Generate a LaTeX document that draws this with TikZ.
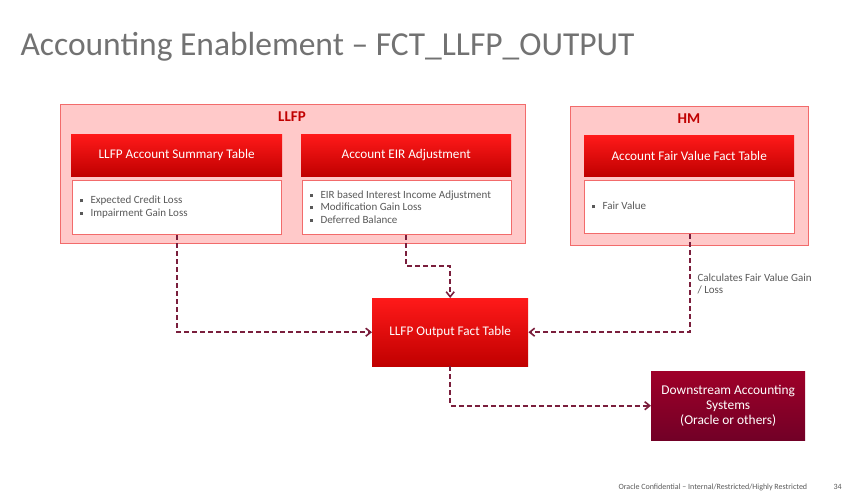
\documentclass[tikz,border=0pt]{standalone}
\usepackage{fontspec}
\setmainfont{Carlito}
\usetikzlibrary{arrows.meta, positioning, calc}
\definecolor{grouppink}{HTML}{FFC9C9}
\definecolor{groupline}{HTML}{F26B6B}
\definecolor{headred}{HTML}{E80000}
\definecolor{darkred}{HTML}{C00000}
\definecolor{crimson}{HTML}{8E0030}
\definecolor{flowline}{HTML}{7A1E3C}
\definecolor{textgray}{HTML}{595959}
\newcommand{\sqb}{\raisebox{0.25ex}{\rule{3pt}{3pt}}\hspace{8pt}}
\begin{document}
\begin{tikzpicture}[
                                        x=1pt, y=-1pt,
                                        group/.style={draw=groupline, line width=1.2pt, fill=grouppink, anchor=north west, inner sep=0pt},
                                        head/.style={top color=red!90!white, bottom color=darkred, text=white, anchor=north west, inner sep=0pt, align=center, font=\fontsize{13.2}{15}\selectfont},
                                        body/.style={draw=groupline, line width=1.2pt, fill=white, anchor=north west, inner sep=0pt},
                                        items/.style={text=textgray, anchor=west, align=left, font=\fontsize{11}{12.5}\selectfont},
                                        flow/.style={draw=flowline, line width=1.6pt, dash pattern=on 5pt off 3pt, -{Straight Barb[length=5pt,width=8pt]}},
                                ]
                                \useasboundingbox (0,0) rectangle (847,496);
                                \node[anchor=west, text=textgray!85, font=\fontsize{33.5}{36}\selectfont] (title) at (17,47) {Accounting Enablement -- FCT\_LLFP\_OUTPUT};
                                % LLFP group
                                \node[group, minimum width=465pt, minimum height=139pt] (llfp) at (60,104) {};
                                \node[text=darkred, font=\bfseries\fontsize{15}{17}\selectfont] (llfpt) at (292,117) {LLFP};
                                \node[head, minimum width=211pt, minimum height=42pt] (sumh) at (71,134) {LLFP Account Summary Table};
                                \node[head, minimum width=210pt, minimum height=42pt] (eirh) at (301,134) {Account EIR Adjustment};
                                \node[body, minimum width=209pt, minimum height=54pt] (sumb) at (72,180) {};
                                \node[body, minimum width=209pt, minimum height=54pt] (eirb) at (302,180) {};
                                \node[items] (sumi) at (76,207) {\sqb Expected Credit Loss\\\sqb Impairment Gain Loss};
                                \node[items] (eiri) at (306,207) {\sqb EIR based Interest Income Adjustment\\\sqb Modification Gain Loss\\\sqb Deferred Balance};
                                % HM group
                                \node[group, minimum width=238pt, minimum height=139pt] (hm) at (570,106) {};
                                \node[text=darkred, font=\bfseries\fontsize{15}{17}\selectfont] (hmt) at (689,119) {HM};
                                \node[head, minimum width=210pt, minimum height=41pt] (fvh) at (584,135) {Account Fair Value Fact Table};
                                \node[body, minimum width=210pt, minimum height=53pt] (fvb) at (584,180) {};
                                \node[items] (fvi) at (588,206) {\sqb Fair Value};
                                % output and downstream
                                \node[head, minimum width=156pt, minimum height=68pt] (out) at (372,298) {LLFP Output Fact Table};
                                \node[head, top color=crimson!85!red, bottom color=crimson!80!black, minimum width=154pt, minimum height=69pt, font=\fontsize{13.4}{15}\selectfont] (down) at (651,371) {Downstream Accounting\\Systems\\(Oracle or others)};
                                % connectors
                                \coordinate (k1) at (406,266);
                                \draw[flow] (sumb.south -| 177,0) |- (out.west);
                                \draw[flow] (eirb.south -| k1) -- (k1) -| (out.north);
                                \draw[flow] (fvb.south -| 690,0) |- (out.east);
                                \draw[flow] (out.south) |- (down.west);
                                \node[items, anchor=north west] (gain) at (694,270) {Calculates Fair Value Gain\\/ Loss};
                                \node[anchor=west, text=textgray, font=\fontsize{8}{9}\selectfont] (conf) at (615,487) {Oracle Confidential -- Internal/Restricted/Highly Restricted};
                                \node[anchor=west, text=textgray, font=\fontsize{8}{9}\selectfont] (page) at (830,487) {34};
                        \end{tikzpicture}
\end{document}
